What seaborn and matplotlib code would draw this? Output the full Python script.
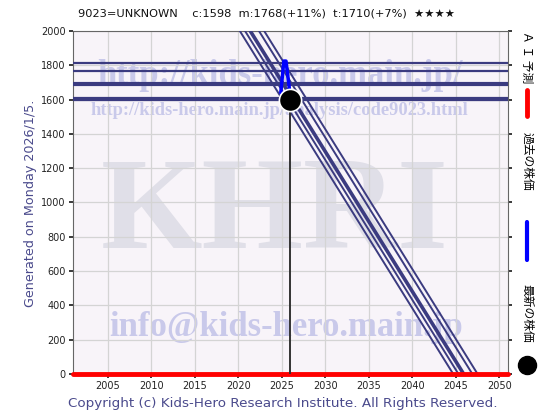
import numpy as np
import pandas as pd
import matplotlib
matplotlib.use("Agg")
import matplotlib.pyplot as plt
import seaborn as sns
from matplotlib.lines import Line2D

# --- data ---
title_text = "9023=UNKNOWN    c:1598  m:1768(+11%)  t:1710(+7%)  ★★★★"
level_values = [1815, 1768, 1690, 1607, 1598]          # horizontal reference lines
trend_start_years = [2020.2, 2020.8, 2021.4, 2022.4, 2023.0]   # where each trend is at 2000
trend_end_years = [2044.7, 2045.3, 2045.9, 2046.9, 2047.5]     # where each trend hits 0
trend_top, trend_bottom = 2000, 0
past_years = [2024.9, 2025.25, 2025.5, 2025.85, 2026.0]
past_prices = [1640, 1825, 1825, 1680, 1598]
latest_year, latest_price = 2026.0, 1598
ai_forecast = 0
x_ticks = [2005, 2010, 2015, 2020, 2025, 2030, 2035, 2040, 2045, 2050]
y_ticks = list(range(0, 2001, 200))

navy = "#3b3b80"
text_blue = "#4a4a8c"
wm_color = "#c9c9ea"

sns.set_theme(style="whitegrid")
plt.rcParams['font.family'] = ['DejaVu Sans', 'Noto Sans CJK JP']

fig = plt.figure(figsize=(5.6, 4.2), dpi=100)
ax = fig.add_axes([0.130, 0.110, 0.777, 0.816])
ax.set_facecolor("#f8f4f9")

# watermarks (axes fraction positions, baseline anchored)
ax.text(0.465, 0.368, "KHRI", transform=ax.transAxes, ha="center", va="baseline",
        fontsize=94, fontweight="bold", family="Liberation Serif", color="#e0dfe8", zorder=0)
ax.text(0.475, 0.845, "http://kids-hero.main.jp/", transform=ax.transAxes, ha="center", va="baseline",
        fontsize=25, fontweight="bold", family="Liberation Serif", color=wm_color, zorder=0)
ax.text(0.475, 0.755, "http://kids-hero.main.jp/analysis/code9023.html", transform=ax.transAxes,
        ha="center", va="baseline", fontsize=13.3, fontweight="bold", family="Liberation Serif",
        color=wm_color, zorder=0)
ax.text(0.49, 0.11, "info@kids-hero.main.jp", transform=ax.transAxes, ha="center", va="baseline",
        fontsize=25, fontweight="bold", family="Liberation Serif", color=wm_color, zorder=0)

# horizontal levels
for i, lv in enumerate(level_values):
    ax.axhline(lv, color=navy, lw=3.0 if i == 2 else 1.6, zorder=3)

# trend lines
trend_df = pd.DataFrame({
    "year": trend_start_years + trend_end_years,
    "price": [trend_top] * len(trend_start_years) + [trend_bottom] * len(trend_end_years),
    "line": list(range(len(trend_start_years))) * 2,
})
for i, (ln, g) in enumerate(trend_df.groupby("line")):
    sns.lineplot(data=g, x="year", y="price", color=navy, lw=2.6 if i == 2 else 1.4,
                 ax=ax, zorder=3, estimator=None)

# AI forecast line at 0
ax.axhline(ai_forecast, color="#ff0000", lw=3.5, zorder=4, clip_on=False)

# vertical line at latest date
ax.plot([latest_year, latest_year], [0, latest_price], color="#333333", lw=1.4, zorder=4)

# past prices
sns.lineplot(x=past_years, y=past_prices, color="#0000ff", lw=2.5, ax=ax, zorder=5,
             estimator=None, sort=False)

# latest price
ax.plot([latest_year], [latest_price], marker="o", ms=16, color="black",
        markeredgecolor="white", markeredgewidth=1.2, zorder=6)

ax.set_xlim(2001, 2051)
ax.set_ylim(0, 2000)
ax.set_xticks(x_ticks)
ax.set_yticks(y_ticks)
ax.set_xlabel("")
ax.set_ylabel("")
ax.grid(True, color="#d4d4d4", lw=0.9)
ax.tick_params(axis="both", labelsize=7, length=3, direction="out", pad=2, colors="#222222",
               left=True, bottom=True, right=True)
for s in ax.spines.values():
    s.set_color("#666666")
    s.set_linewidth(0.8)

# texts around
fig.text(0.475, 0.967, title_text, ha="center", va="center", fontsize=8.2, color="#111111")
fig.text(0.055, 0.517, "Generated on Monday 2026/1/5.", rotation=90, ha="center", va="center",
         fontsize=9.2, color=text_blue)
fig.text(0.505, 0.040, "Copyright (c) Kids-Hero Research Institute. All Rights Reserved.",
         ha="center", va="center", fontsize=9.7, color=text_blue)

# legend on the right (rotated)
jp = ['Noto Sans CJK JP', 'DejaVu Sans']
fig.text(0.941, 0.865, "Ａ Ｉ 予測", rotation=-90, ha="center", va="center", fontsize=8.5, family=jp,
         color="black")
fig.add_artist(Line2D([0.941, 0.941], [1 - 90 / 420, 1 - 116 / 420], color="#ff0000", lw=3.5))
fig.text(0.941, 0.615, "過去の株価", rotation=-90, ha="center", va="center", fontsize=8.5, family=jp,
         color="black")
fig.add_artist(Line2D([0.941, 0.941], [1 - 222 / 420, 1 - 260 / 420], color="#0000ff", lw=3.0))
fig.text(0.941, 0.255, "最新の株価", rotation=-90, ha="center", va="center", fontsize=8.5, family=jp,
         color="black")
fig.add_artist(Line2D([0.941], [1 - 365 / 420], marker="o", ms=13, color="black"))

fig.savefig("out.png", dpi=100)
